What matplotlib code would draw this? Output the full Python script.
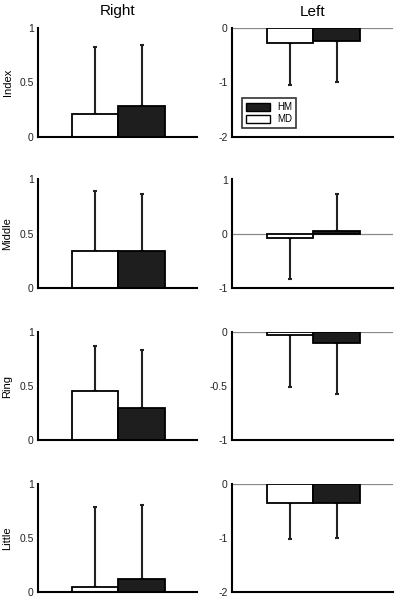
import matplotlib
matplotlib.use("Agg")
import matplotlib.pyplot as plt
from matplotlib.patches import Patch

plt.rcParams['font.family'] = ['Liberation Sans', 'DejaVu Sans']

fingers = ["Index", "Middle", "Ring", "Little"]
sides = ["Right", "Left"]
groups = ["MD", "HM"]

# means [finger][group]
right_mean = [[0.21, 0.285], [0.342, 0.342], [0.455, 0.298], [0.042, 0.116]]
right_err = [[0.616, 0.555], [0.553, 0.526], [0.415, 0.536], [0.743, 0.684]]
left_mean = [[-0.28, -0.24], [-0.07, 0.05], [-0.025, -0.10], [-0.36, -0.355]]
left_err = [[0.77, 0.75], [0.755, 0.68], [0.485, 0.475], [0.66, 0.655]]

right_ylim = [(0, 1), (0, 1), (0, 1), (0, 1)]
right_ticks = [[0, 0.5, 1]] * 4
right_ticklabels = [["0", "0.5", "1"]] * 4
left_ylim = [(-2, 0), (-1, 1), (-1, 0), (-2, 0)]
left_ticks = [[-2, -1, 0], [-1, 0, 1], [-1, -0.5, 0], [-2, -1, 0]]
left_ticklabels = [["-2", "-1", "0"], ["-1", "0", "1"], ["-1", "-0.5", "0"], ["-2", "-1", "0"]]

W, H = 397, 600
fig = plt.figure(figsize=(W / 100, H / 100), dpi=100)

rows_px = [(28, 137), (179.5, 288), (332, 440), (483.5, 592)]
cols_px = [(38, 197), (232, 393)]

fill = ["white", "#1e1e1e"]
xpos = [1, 2]

for r in range(4):
    for c in range(2):
        x0, x1 = cols_px[c]
        t, b = rows_px[r]
        ax = fig.add_axes([x0 / W, 1 - b / H, (x1 - x0) / W, (b - t) / H])
        if c == 0:
            means, errs, ylim, ticks, tl = right_mean[r], right_err[r], right_ylim[r], right_ticks[r], right_ticklabels[r]
        else:
            means, errs, ylim, ticks, tl = left_mean[r], left_err[r], left_ylim[r], left_ticks[r], left_ticklabels[r]
        for g in range(2):
            m = means[g]
            e = errs[g]
            ax.bar(xpos[g], m, width=1.0, color=fill[g], edgecolor="black", linewidth=1.3, zorder=2)
            if m >= 0:
                yerr = [[0], [e]]
            else:
                yerr = [[e], [0]]
            ax.errorbar(xpos[g], m, yerr=yerr, fmt="none", ecolor="#222222",
                        elinewidth=1.5, capsize=1.2, capthick=1.5, zorder=1)
        ax.set_xlim(-0.24, 3.2)
        ax.set_ylim(*ylim)
        ax.set_yticks(ticks)
        ax.set_yticklabels(tl)
        ax.set_xticks([])
        ax.tick_params(axis="y", length=0, labelsize=7.5, pad=3, colors="#222222")
        for s in ["top", "right"]:
            ax.spines[s].set_visible(False)
        ax.spines["left"].set_linewidth(1.5)
        ax.spines["bottom"].set_linewidth(1.5)
        if c == 1:
            ax.axhline(0, color="#888888", linewidth=0.9, zorder=0)
        if c == 0:
            ax.set_ylabel(fingers[r], fontsize=8, labelpad=5)
        if r == 0:
            ax.set_title(sides[c], fontsize=11, pad=9)
        if r == 0 and c == 1:
            handles = [Patch(facecolor=fill[1], edgecolor="black", linewidth=1.0, label=groups[1]),
                       Patch(facecolor=fill[0], edgecolor="black", linewidth=1.0, label=groups[0])]
            leg = ax.legend(handles=handles, loc="lower left", bbox_to_anchor=(0.035, 0.04),
                            fontsize=7, frameon=True, fancybox=False, borderpad=0.4,
                            handlelength=2.4, handleheight=0.9, labelspacing=0.2, handletextpad=0.8)
            leg.get_frame().set_edgecolor("black")
            leg.get_frame().set_linewidth(1.2)

fig.savefig("out.png", dpi=100)
